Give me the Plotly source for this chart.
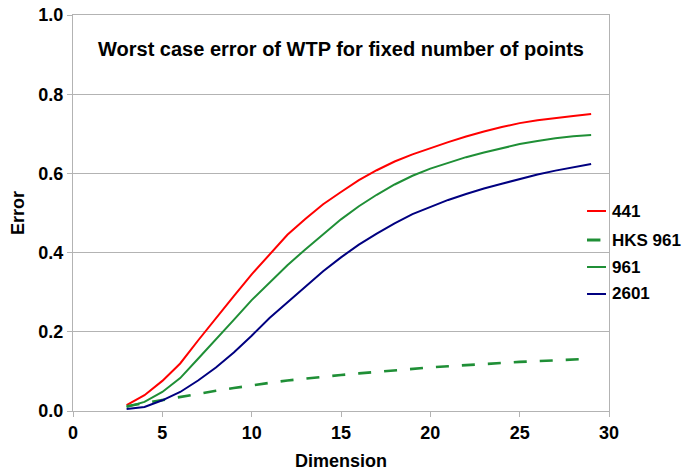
import plotly.graph_objects as go

dims = list(range(3, 30))
err_441 = [0.015, 0.04, 0.076, 0.12, 0.178, 0.235, 0.29, 0.345, 0.395, 0.445, 0.485, 0.522, 0.553,
           0.583, 0.608, 0.63, 0.648, 0.664, 0.679, 0.693, 0.706, 0.717, 0.727, 0.734, 0.74, 0.745, 0.75]
err_hks961 = [0.012, 0.02, 0.028, 0.036, 0.044, 0.051, 0.058, 0.065, 0.071, 0.077, 0.082, 0.087, 0.091,
              0.095, 0.099, 0.103, 0.107, 0.110, 0.113, 0.116, 0.119, 0.121, 0.124, 0.126, 0.128, 0.130, 0.132]
err_961 = [0.01, 0.023, 0.048, 0.083, 0.132, 0.18, 0.23, 0.28, 0.325, 0.368, 0.408, 0.447, 0.484,
           0.517, 0.546, 0.572, 0.594, 0.612, 0.627, 0.641, 0.653, 0.664, 0.674, 0.682, 0.689, 0.694, 0.697]
err_2601 = [0.005, 0.01, 0.027, 0.048, 0.077, 0.11, 0.148, 0.19, 0.235, 0.275, 0.315, 0.353, 0.388,
            0.42, 0.448, 0.474, 0.497, 0.516, 0.533, 0.548, 0.562, 0.574, 0.586, 0.597, 0.607, 0.616, 0.624]

series_names = ["441", "HKS 961", "961", "2601"]
series_values = [err_441, err_hks961, err_961, err_2601]
series_colors = ["#ff0000", "#1f8f36", "#1f8f36", "#000080"]
series_dash = ["solid", "13px,13px", "solid", "solid"]
series_width = [2, 2.6, 2, 2]

FONT = "Liberation Sans, Arial, sans-serif"

fig = go.Figure()
for name, vals, color, dash, w in zip(series_names, series_values, series_colors, series_dash, series_width):
    fig.add_trace(go.Scatter(x=dims, y=vals, name=name, mode="lines", showlegend=False,
                             line=dict(color=color, width=w, dash=dash)))

# manual legend (paper coords), placed at right edge like the reference
shapes = []
annotations = []
leg_x0, leg_x1, leg_tx = 0.9590, 0.9944, 1.0019
leg_y = [0.505, 0.4318, 0.3636, 0.2955]
for name, color, dash, yy in zip(series_names, series_colors, series_dash, leg_y):
    if dash != "solid":
        shapes.append(dict(type="line", xref="paper", yref="paper", x0=leg_x0, x1=leg_x0 + 0.025,
                           y0=yy, y1=yy, line=dict(color=color, width=3)))
    else:
        shapes.append(dict(type="line", xref="paper", yref="paper", x0=leg_x0, x1=leg_x1,
                           y0=yy, y1=yy, line=dict(color=color, width=2)))
    annotations.append(dict(text=f"<b>{name}</b>", x=leg_tx, y=yy, xref="paper", yref="paper",
                            xanchor="left", yanchor="middle", showarrow=False,
                            font=dict(family=FONT, size=17, color="black")))

annotations.append(dict(text="<b>Worst case error of WTP for fixed number of points</b>",
                        x=0.5, y=0.915, xref="paper", yref="paper", showarrow=False,
                        xanchor="center", yanchor="middle",
                        font=dict(family=FONT, size=20, color="black")))

fig.update_layout(
    width=684, height=471,
    margin=dict(l=73, r=75, t=15, b=60),
    paper_bgcolor="white", plot_bgcolor="white",
    font=dict(family=FONT, size=18, color="black"),
    showlegend=False,
    shapes=shapes,
    annotations=annotations,
)
fig.update_xaxes(range=[0, 30], dtick=5, showgrid=False, showline=True, linecolor="#b3b3b3",
                 linewidth=1, mirror=True, ticks="outside", ticklen=5, tickcolor="#b3b3b3",
                 zeroline=False, automargin=False, ticklabeloverflow="allow",
                 tickfont=dict(family=FONT, size=18, weight="bold"),
                 title=dict(text="<b>Dimension</b>", font=dict(family=FONT, size=18), standoff=18))
fig.update_yaxes(range=[0, 1.0], dtick=0.2, tickformat=".1f", showgrid=True, gridcolor="#b3b3b3",
                 showline=True, linecolor="#b3b3b3", linewidth=1, mirror=True,
                 ticks="outside", ticklen=5, tickcolor="#b3b3b3", zeroline=False, automargin=False,
                 ticklabeloverflow="allow",
                 tickfont=dict(family=FONT, size=18, weight="bold"),
                 title=dict(text="<b>Error</b>", font=dict(family=FONT, size=18), standoff=9))

# remove the browser's default 8px body margin so the figure fills the window exactly
fig.write_html("out.html", config={"displayModeBar": False},
               post_script="document.body.style.margin='0px';")
